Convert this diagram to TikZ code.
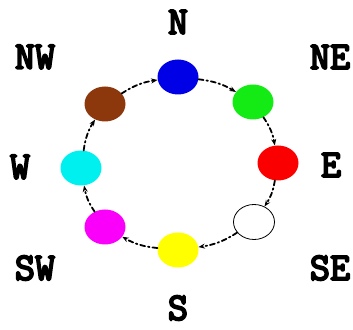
\documentclass[tikz,border=0pt]{standalone}
\usepackage{fontspec}
\usetikzlibrary{arrows.meta,shapes.geometric}
\newfontfamily\dirfont[FakeBold=5]{Latin Modern Mono}
\definecolor{dotbrown}{RGB}{140,55,12}
\definecolor{dotgreen}{RGB}{20,235,20}
\definecolor{dotblue}{RGB}{0,0,230}
\definecolor{dotred}{RGB}{250,0,0}
\definecolor{dotyellow}{RGB}{255,255,0}
\definecolor{dotmagenta}{RGB}{250,0,250}
\definecolor{dotcyan}{RGB}{0,240,240}

\begin{document}
\begin{tikzpicture}[x=1pt,y=1pt,line cap=round,line join=round,
  dot/.style={ellipse,inner sep=0pt,minimum width=41pt,minimum height=35pt},
  dirlabel/.style={font=\dirfont\bfseries\fontsize{39}{39}\selectfont,inner sep=0pt},
  link/.style={-{Stealth[length=6.5pt,width=5pt]},line width=1.8pt,
    dash pattern=on 5pt off 3pt on 1.5pt off 3pt,bend left=12}]
\useasboundingbox (0,0) rectangle (353,329);
% the eight dots
\node[dot,fill=dotblue] (n) at (178,252) {};
\node[dot,fill=dotgreen] (ne) at (253,227) {};
\node[dot,fill=dotred] (e) at (278,166) {};
\node[dot,draw=black,fill=white,line width=0.8pt] (se) at (254,107) {};
\node[dot,fill=dotyellow] (s) at (178,79) {};
\node[dot,fill=dotmagenta] (sw) at (105,102) {};
\node[dot,fill=dotcyan] (w) at (81,161) {};
\node[dot,fill=dotbrown] (nw) at (105,225) {};
% compass labels
\node[dirlabel] (ln) at (178,307) {N};
\node[dirlabel] (lnw) at (35,272) {NW};
\node[dirlabel] (lne) at (330,272) {NE};
\node[dirlabel] (lw) at (20,162) {W};
\node[dirlabel] (le) at (331,164) {E};
\node[dirlabel] (lsw) at (35,61) {SW};
\node[dirlabel] (lse) at (330,61) {SE};
\node[dirlabel] (ls) at (178,21) {S};
% links round the ring
\draw[link] (n) to (ne);
\draw[link] (ne) to (e);
\draw[link] (e) to (se);
\draw[link] (se) to (s);
\draw[link] (s) to (sw);
\draw[link] (sw) to (w);
\draw[link] (w) to (nw);
\draw[link] (nw) to (n);
\end{tikzpicture}
\end{document}
